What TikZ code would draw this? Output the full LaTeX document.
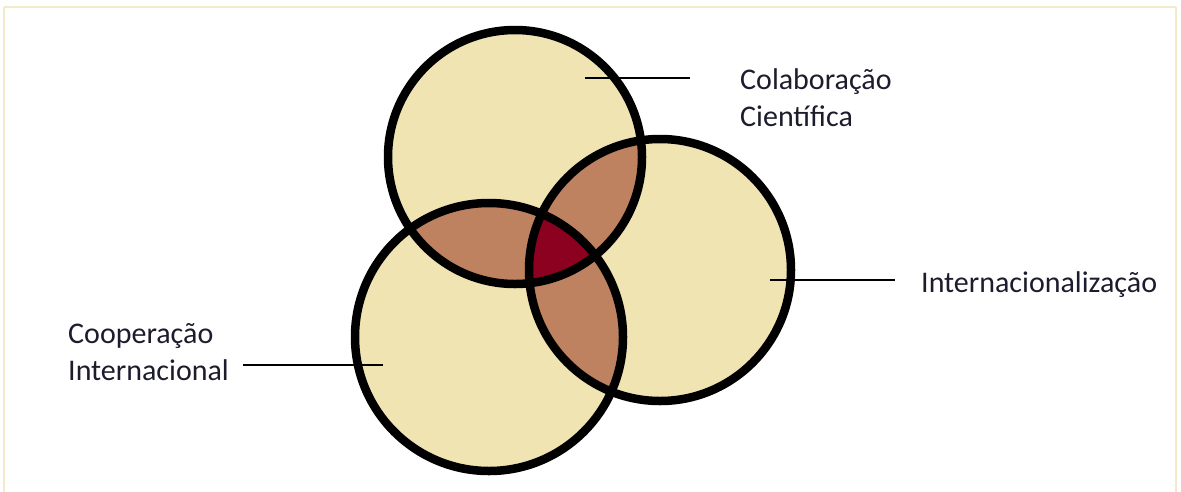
\documentclass[tikz,border=0pt]{standalone}
\usepackage{fontspec}
\setmainfont{Carlito}
\definecolor{beige}{HTML}{F0E4B3}
\definecolor{brownish}{HTML}{BE8260}
\definecolor{darkred}{HTML}{8C0020}
\definecolor{frame}{HTML}{F3EACB}
\definecolor{txt}{HTML}{1C1C2C}
\begin{document}
\begin{tikzpicture}[x=1pt,y=-1pt,
  ring/.style={draw=black,line width=8.5pt},
  leader/.style={draw=black,line width=1.3pt},
  lbl/.style={font=\fontsize{30}{37}\selectfont,text=txt,align=left,inner sep=0pt}]
\useasboundingbox (0,0) rectangle (1181,491);
\draw[frame,line width=2pt] (4,7) -- (1176,7) (4,7) -- (4,495) (1176,7) -- (1176,495);
% circle geometry
\coordinate (ct) at (515,157);
\coordinate (cr) at (660,270);
\coordinate (cb) at (489,337);
\def\rt{127}\def\rr{131}\def\rb{134}
% base fills
\fill[beige] (ct) circle (\rt);
\fill[beige] (cr) circle (\rr);
\fill[beige] (cb) circle (\rb);
% pairwise intersections
\begin{scope}\clip (ct) circle (\rt); \fill[brownish] (cr) circle (\rr); \fill[brownish] (cb) circle (\rb);\end{scope}
\begin{scope}\clip (cr) circle (\rr); \fill[brownish] (cb) circle (\rb);\end{scope}
% triple intersection
\begin{scope}\clip (ct) circle (\rt); \clip (cr) circle (\rr); \fill[darkred] (cb) circle (\rb);\end{scope}
% outlines
\draw[ring] (ct) circle (\rt);
\draw[ring] (cr) circle (\rr);
\draw[ring] (cb) circle (\rb);
% labels
\node[lbl,anchor=west] (lt) at (740,98) {Colaboração\\Científica};
\node[lbl,anchor=west] (lr) at (921,285) {Internacionalização};
\node[lbl,anchor=west] (lb) at (68,352) {Cooperação\\Internacional};
\coordinate (pt) at (585,78);
\coordinate (pr) at (770,280);
\coordinate (pb) at (383,365);
\draw[leader] (pt) -- (690,78);
\draw[leader] (pr) -- (895,280);
\draw[leader] (pb) -- (243,365);
\end{tikzpicture}
\end{document}
